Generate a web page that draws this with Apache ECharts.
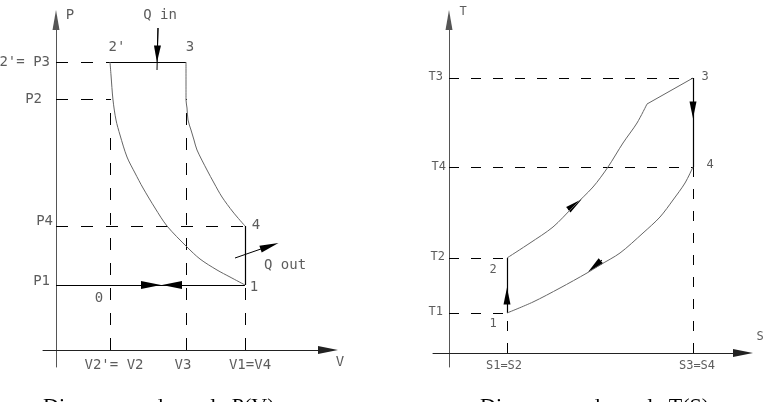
<!DOCTYPE html>
<html>
<head>
<meta charset="utf-8">
<script src="https://cdn.jsdelivr.net/npm/echarts@6/dist/echarts.min.js"></script>
<style>html,body{margin:0;padding:0;background:#fff}#c{width:772px;height:402px}</style>
</head>
<body>
<div id="c"></div>
<script>
// ===================== DATA (arbitrary units) =====================
// P(V) diagram
const pvVolumes = [5.4, 13.0, 18.9];            // V2 (=V2'), V3, V1 (=V4)
const pvPressures = [6.5, 12.4, 25.1, 28.8];     // P1, P4, P2, P3 (=P2')
const pvXTickLabels = ["V2'= V2", "V3", "V1=V4"];
const pvYTickLabels = ["P1", "P4", "P2", "2'= P3"];
// compression curve 1 -> 2'
const pvCompression = [[5.4,28.8],[5.5,27.5],[5.7,25.0],[6.0,23.0],[6.4,21.5],[7.1,19.3],[7.9,17.7],[8.7,16.2],[9.9,14.2],[11.1,12.4],[13.1,10.3],[14.4,9.1],[16.1,8.0],[17.4,7.3],[18.9,6.5]];
// expansion curve 3 -> 4
const pvExpansion = [[13.0,28.8],[13.0,25.0],[13.1,24.2],[13.2,23.0],[13.5,22.0],[13.8,21.0],[14.1,20.0],[15.1,18.0],[15.8,16.7],[16.6,15.3],[17.7,13.8],[18.9,12.4]];
const pvPointLabels = ["2'", "3", "4", "1", "0"];
const pvArrowQin = [[10.2,32.2],[10.1,28.0]];
const pvArrowQout = [[17.9,9.2],[21.35,10.4]];
const pvArrowIntake = [[8.0,6.5],[9.5,6.5]];
const pvArrowExhaust = [[13.0,6.5],[11.6,6.5]];

// T(S) diagram
const tsEntropies = [5.8, 24.4];                 // S1 (=S2), S3 (=S4)
const tsTemperatures = [4.0, 9.5, 18.6, 27.5];   // T1, T2, T4, T3
const tsXTickLabels = ["S1=S2", "S3=S4"];
const tsYTickLabels = ["T1", "T2", "T4", "T3"];
// heating 2 -> 3 (curved part, then straight part to 3)
const tsHeating = [[5.8,9.5],[8.1,11.0],[10.4,12.6],[12.4,14.6],[14.4,16.6],[15.9,18.6],[17.4,21.0],[18.8,23.0],[19.8,24.9]];
const tsHeatingTop = [[19.8,24.9],[24.4,27.5]];
// cooling 4 -> 1
const tsCooling = [[24.4,18.6],[23.6,17.0],[22.4,15.3],[21.1,13.6],[19.4,12.0],[17.1,10.0],[15.1,8.8],[13.8,8.0],[11.1,6.5],[8.4,5.1],[5.8,4.0]];
const tsPointLabels = ["1", "2", "3", "4"];
const tsArrowHeat = [[11.9,14.3],[12.6,14.85]];
const tsArrowCool = [[15.3,9.3],[14.55,8.65]];
const tsArrowDown = [[24.4,26.0],[24.4,24.3]];
const tsArrowUp = [[5.8,4.5],[5.8,5.7]];

const captions = ["Diagramme du cycle P(V)", "Diagramme du cycle T(S)"];

// ===================== STYLE =====================
const [V2, V3, V1] = pvVolumes;
const [P1, P4, P2, P3] = pvPressures;
const [S1, S3] = tsEntropies;
const [T1, T2, T4, T3] = tsTemperatures;

const PV_RANGE = {xmin: -1.3, xmax: 27.2, ymin: -1.7, ymax: 33.0};
const TS_RANGE = {xmin: -1.6, xmax: 29.4, ymin: -1.4, ymax: 33.3};

const pvFont = {fontFamily: 'DejaVu Sans Mono', fontSize: 14, color: '#333'};
const tsFont = {fontFamily: 'DejaVu Sans Mono', fontSize: 12, color: '#333'};

const pvYTickOffsets = [[-6,-4],[-3,-5],[-14,0],[-6,0]];
const pvXTickOffsets = [[4,15],[-3,15],[5,15]];
const tsYTickOffsets = [[-6,-1],[-4,-1],[-3,0],[-6,-1]];
const tsXTickOffsets = [[-3,13],[4,13]];

const pvPointAnchors = [[V2,P3],[V3,P3],[V1,P4],[V1,P1],[V2,P1]];
const pvPointOffsets = [[7,-15],[4,-15],[11,-1],[9,2],[-11,13]];
const tsPointAnchors = [[S1,T1],[S1,T2],[S3,T3],[S3,T4]];
const tsPointOffsets = [[-14,11],[-14,12],[12,-1],[17,-2]];

const solid = {color: '#000', width: 1.2, type: 'solid', opacity: 1};
const curveStyle = {color: '#666', width: 1, type: 'solid', opacity: 1};
const pvDash = {color: '#000', width: 1, type: [12, 13], opacity: 1};
const tsDash = {color: '#000', width: 1, type: [10, 12], opacity: 1};

function segs(gi, list, style) {
  return {type: 'lines', coordinateSystem: 'cartesian2d', xAxisIndex: gi, yAxisIndex: gi,
    silent: true, polyline: false, lineStyle: style, symbol: 'none',
    data: list.map(c => ({coords: c}))};
}
function curve(gi, pts, smooth) {
  return {type: 'line', xAxisIndex: gi, yAxisIndex: gi, silent: true, showSymbol: false,
    symbol: 'none', smooth: smooth, lineStyle: curveStyle, data: pts};
}
function arrows(gi, list, size) {
  return {type: 'lines', coordinateSystem: 'cartesian2d', xAxisIndex: gi, yAxisIndex: gi,
    silent: true, polyline: false, lineStyle: {color: '#000', width: 1, opacity: 1},
    symbol: ['none', 'triangle'], symbolSize: [size, size],
    data: list.map(c => ({coords: c}))};
}
function texts(gi, names, anchors, offsets, font, align) {
  return {type: 'scatter', xAxisIndex: gi, yAxisIndex: gi, symbolSize: 0, silent: true,
    data: names.map((n, i) => ({name: n, value: anchors[i],
      label: {show: true, position: 'inside', formatter: '{b}', offset: offsets[i],
        align: align || 'center', verticalAlign: 'middle', ...font}}))};
}

function axisX(gi, r) {
  return {gridIndex: gi, type: 'value', min: r.xmin, max: r.xmax,
    axisLine: {show: true, onZero: true, lineStyle: {color: '#222', width: 1},
      symbol: ['none', 'triangle'], symbolSize: [8, 20]},
    axisTick: {show: false}, axisLabel: {show: false}, splitLine: {show: false}};
}
function axisY(gi, r) {
  return {gridIndex: gi, type: 'value', min: r.ymin, max: r.ymax,
    axisLine: {show: true, onZero: true, lineStyle: {color: '#555', width: 1},
      symbol: ['none', 'triangle'], symbolSize: [7, 20]},
    axisTick: {show: false}, axisLabel: {show: false}, splitLine: {show: false}};
}

const captionStyle = {fontFamily: 'Liberation Serif', fontSize: 22, fontWeight: 'normal', color: '#000'};

const option = {
  animation: false,
  backgroundColor: '#fff',
  title: [
    {text: captions[0], left: 43, top: 396, padding: 0, textStyle: captionStyle},
    {text: captions[1], left: 480, top: 396, padding: 0, textStyle: captionStyle}
  ],
  grid: [
    {left: 43, top: 20, width: 285, height: 347},
    {left: 433, top: 20, width: 310, height: 347}
  ],
  xAxis: [axisX(0, PV_RANGE), axisX(1, TS_RANGE)],
  yAxis: [axisY(0, PV_RANGE), axisY(1, TS_RANGE)],
  series: [
    // ---- P(V) ----
    segs(0, [
      [[0,P3],[V2,P3]], [[0,P2],[V2,P2]], [[0,P4],[V1,P4]],
      [[V2,0],[V2,P2]], [[V3,0],[V3,P2]], [[V1,0],[V1,P1]]
    ], pvDash),
    segs(0, [[[V2,P3],[V3,P3]], [[V1,P1],[V1,P4]], [[0,P1],[V1,P1]]], solid),
    curve(0, pvCompression, 0.3),
    curve(0, pvExpansion, 0.3),
    segs(0, [pvArrowQin], {color: '#000', width: 1, opacity: 1}),
    arrows(0, [[pvArrowQin[0], [10.12, 29.6]]], [7, 17]),
    arrows(0, [pvArrowQout], [7, 19]),
    arrows(0, [pvArrowIntake, pvArrowExhaust], [8, 20]),
    texts(0, pvYTickLabels, pvPressures.map(p => [0, p]), pvYTickOffsets, pvFont, 'right'),
    texts(0, pvXTickLabels, pvVolumes.map(v => [v, 0]), pvXTickOffsets, pvFont),
    texts(0, pvPointLabels, pvPointAnchors, pvPointOffsets, pvFont),
    texts(0, ['Q in', 'Q out', 'P', 'V'],
      [pvArrowQin[0], [22.2, 10.7], [0, PV_RANGE.ymax], [PV_RANGE.xmax, 0]],
      [[2,-13],[7,22],[14,-5],[12,12]], pvFont),
    // ---- T(S) ----
    segs(1, [
      [[0,T3],[S3,T3]], [[0,T4],[S3,T4]], [[0,T2],[S1,T2]], [[0,T1],[S1,T1]],
      [[S1,0],[S1,T1]], [[S3,0],[S3,T4]]
    ], tsDash),
    segs(1, [[[S1,T1],[S1,T2]], [[S3,T4],[S3,T3]]], solid),
    curve(1, tsHeating, 0.3),
    curve(1, tsHeatingTop, false),
    curve(1, tsCooling, 0.3),
    arrows(1, [tsArrowHeat, tsArrowCool], [7, 17]),
    arrows(1, [tsArrowDown, tsArrowUp], [7, 17]),
    texts(1, tsYTickLabels, tsTemperatures.map(t => [0, t]), tsYTickOffsets, tsFont, 'right'),
    texts(1, tsXTickLabels, tsEntropies.map(s => [s, 0]), tsXTickOffsets, tsFont),
    texts(1, tsPointLabels, tsPointAnchors, tsPointOffsets, tsFont),
    texts(1, ['T', 'S'], [[0, TS_RANGE.ymax], [TS_RANGE.xmax, 0]], [[14,-8],[17,-16]], tsFont)
  ]
};

const chart = echarts.init(document.getElementById('c'), null, {renderer: 'canvas'});
chart.setOption(option);
</script>
</body>
</html>
